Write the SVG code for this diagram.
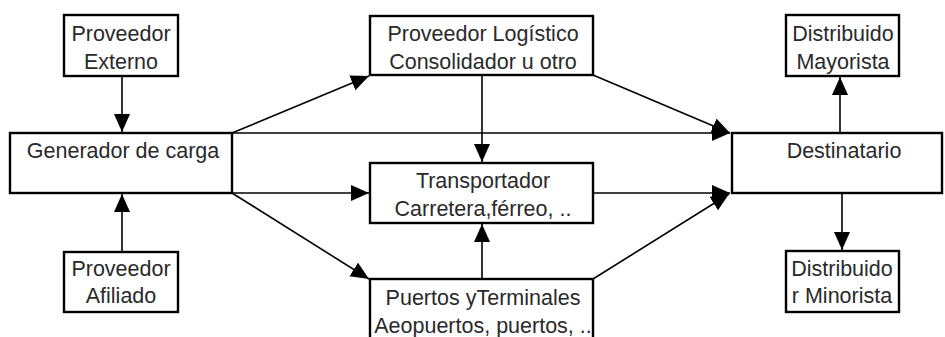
<svg xmlns="http://www.w3.org/2000/svg" width="945" height="337" viewBox="0 0 945 337">
<defs>
<style>
.box{fill:#fff;stroke:#000;stroke-width:2.4}
.t{font-family:"Liberation Sans",Arial,sans-serif;font-size:21.5px;fill:#2a2a2a;text-anchor:middle}
.ca{fill:none;stroke:#000;stroke-width:1.6;marker-end:url(#ah)}
</style>
<marker id="ah" markerUnits="userSpaceOnUse" markerWidth="19" markerHeight="17" refX="18" refY="8" orient="auto">
<path d="M0,0 L18,8 L0,16 Z" fill="#000"/>
</marker>
</defs>
<rect width="945" height="337" fill="#fff"/>
<g id="connectors">
<line class="ca" x1="122" y1="76" x2="122" y2="132"/>
<line class="ca" x1="122" y1="252" x2="122" y2="194"/>
<line class="ca" x1="232" y1="133" x2="369" y2="76"/>
<line class="ca" x1="232" y1="133" x2="730" y2="133"/>
<line class="ca" x1="232" y1="193" x2="369" y2="193"/>
<line class="ca" x1="232" y1="193" x2="369" y2="279"/>
<line class="ca" x1="482" y1="75" x2="482" y2="162"/>
<line class="ca" x1="482" y1="279" x2="482" y2="224"/>
<line class="ca" x1="593" y1="75" x2="730" y2="133"/>
<line class="ca" x1="593" y1="193" x2="730" y2="193"/>
<line class="ca" x1="593" y1="279" x2="729" y2="194"/>
<line class="ca" x1="840" y1="133" x2="840" y2="77"/>
<line class="ca" x1="842" y1="193" x2="842" y2="250"/>
</g>
<g id="proveedor-externo">
<rect class="box" x="64" y="15" width="114" height="61"/>
<text class="t" x="121" y="41">Proveedor</text>
<text class="t" x="121" y="69">Externo</text>
</g>
<g id="proveedor-afiliado">
<rect class="box" x="64" y="252" width="114" height="60"/>
<text class="t" x="121" y="276">Proveedor</text>
<text class="t" x="121" y="303">Afiliado</text>
</g>
<g id="generador">
<rect class="box" x="10" y="133" width="222" height="60"/>
<text class="t" x="123" y="158">Generador de carga</text>
</g>
<g id="proveedor-logistico">
<rect class="box" x="370" y="16" width="223" height="59"/>
<text class="t" x="483" y="41">Proveedor Logístico</text>
<text class="t" x="483" y="69">Consolidador u otro</text>
</g>
<g id="transportador">
<rect class="box" x="370" y="163" width="223" height="60"/>
<text class="t" x="483" y="188">Transportador</text>
<text class="t" x="483" y="216">Carretera,férreo, ..</text>
</g>
<g id="puertos">
<rect class="box" x="370" y="279" width="223" height="70"/>
<text class="t" x="483" y="305">Puertos yTerminales</text>
<text class="t" x="483" y="333">Aeopuertos, puertos, ..</text>
</g>
<g id="destinatario">
<rect class="box" x="732" y="133" width="210" height="60"/>
<text class="t" x="844" y="158">Destinatario</text>
</g>
<g id="distribuidor-mayorista">
<rect class="box" x="786" y="15" width="113" height="61"/>
<text class="t" x="843" y="41">Distribuido</text>
<text class="t" x="843" y="69">Mayorista</text>
</g>
<g id="distribuidor-minorista">
<rect class="box" x="786" y="251" width="113" height="61"/>
<text class="t" x="842" y="276">Distribuido</text>
<text class="t" x="842" y="303">r Minorista</text>
</g>
</svg>
